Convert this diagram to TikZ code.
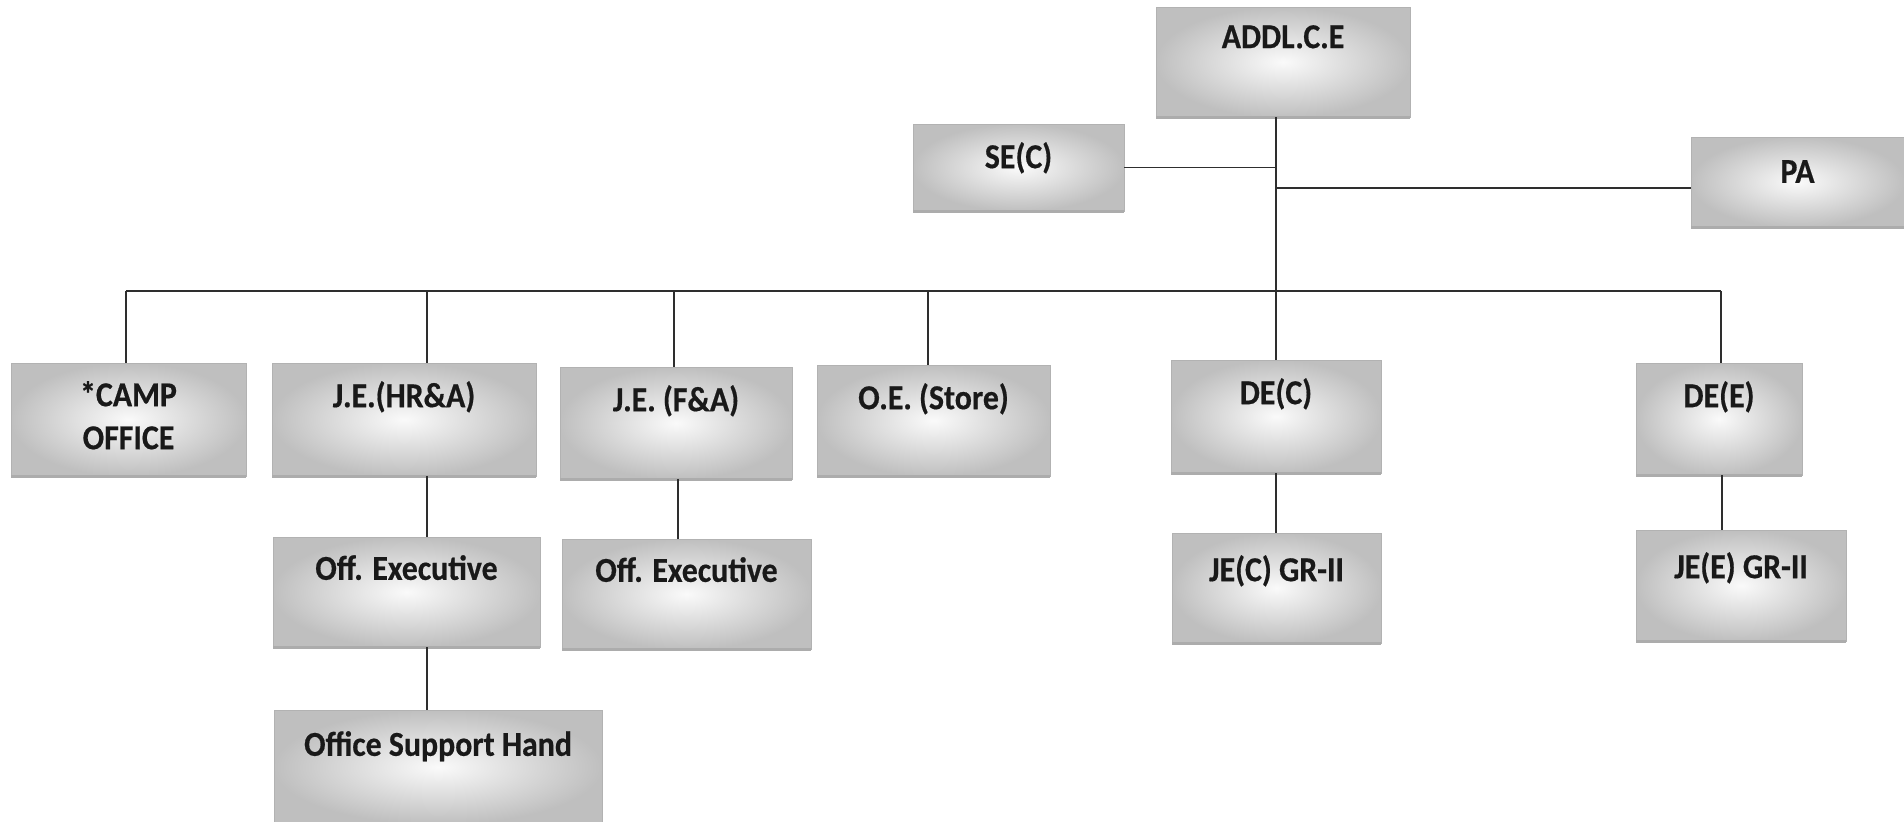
\documentclass[tikz,border=0pt]{standalone}
\usepackage{fontspec}
\setmainfont{Carlito}[BoldFeatures={FakeStretch=0.91,FakeBold=0.5}]
\begin{document}
\begin{tikzpicture}[x=1pt,y=-1pt,
 box/.style={rectangle, draw=gray!60, line width=1pt, inner sep=0pt, outer sep=0pt, shade, inner color=gray!4, outer color=gray!50},
 lbl/.style={anchor=north, inner sep=0pt, yshift=-18pt, font=\fontsize{35}{43}\selectfont\bfseries, text=black!90, align=center},
 conn/.style={draw=black!82, line width=1.7pt},
 bedge/.style={draw=gray!65, line width=3pt}]
\useasboundingbox[fill=white] (0,0) rectangle (1904,822);

% boxes
\node[box, minimum width=254pt, minimum height=110pt, label={[lbl]north:ADDL.C.E}] (adce) at (1283,62) {};
\node[box, minimum width=211pt, minimum height=87pt, label={[lbl]north:SE(C)}] (sec) at (1018.5,167.5) {};
\node[box, minimum width=213pt, minimum height=90pt, label={[lbl,yshift=-5pt]north:PA}] (pa) at (1797.5,182) {};

\node[box, minimum width=235pt, minimum height=113pt, label={[lbl]north:{*CAMP\\OFFICE}}] (camp) at (128.5,419.5) {};
\node[box, minimum width=264pt, minimum height=113pt, label={[lbl]north:J.E.(HR\&A)}] (hra) at (404,419.5) {};
\node[box, minimum width=232pt, minimum height=112pt, label={[lbl]north:J.E. (F\&A)}] (fa) at (676,423) {};
\node[box, minimum width=233pt, minimum height=111pt, label={[lbl]north:O.E. (Store)}] (oe) at (933.5,420.5) {};
\node[box, minimum width=210pt, minimum height=113pt, label={[lbl]north:DE(C)}] (dec) at (1276,416.5) {};
\node[box, minimum width=166pt, minimum height=112pt, label={[lbl]north:DE(E)}] (dee) at (1719,419) {};

\node[box, minimum width=267pt, minimum height=110pt, label={[lbl]north:Off. Executive}] (ofa) at (406.5,592) {};
\node[box, minimum width=249pt, minimum height=110pt, label={[lbl]north:Off. Executive}] (ofb) at (686.5,594) {};
\node[box, minimum width=209pt, minimum height=110pt, label={[lbl,yshift=-4pt]north:JE(C) GR-II}] (jec) at (1276.5,588) {};
\node[box, minimum width=210pt, minimum height=111pt, label={[lbl,yshift=-4pt]north:JE(E) GR-II}] (jee) at (1741,585.5) {};
\node[box, minimum width=328pt, minimum height=114pt, label={[lbl,yshift=-3pt]north:Office Support Hand}] (osh) at (438,767) {};

% bottom edges
\foreach \n in {adce,sec,pa,camp,hra,fa,oe,dec,dee,ofa,ofb,jec,jee}
  \draw[bedge] (\n.south west) -- (\n.south east);

% connectors
\coordinate (pj) at (1276,188);
\coordinate (bl) at (126,291);
\coordinate (br) at (1721,291);
\coordinate (dh) at (427,291);
\coordinate (df) at (674,291);
\coordinate (do) at (928,291);
\coordinate (cf) at (678,0);
\coordinate (ce) at (1722,0);

\draw[conn] (adce.south -| dec.north) -- (dec.north);
\draw[conn] (sec.east) -- (sec.east -| dec.north);
\draw[conn] (pj) -- (pj -| pa.west);
\draw[conn] (bl) -- (br);
\draw[conn] (bl) -- (bl |- camp.north);
\draw[conn] (dh) -- (dh |- hra.north);
\draw[conn] (df) -- (df |- fa.north);
\draw[conn] (do) -- (do |- oe.north);
\draw[conn] (br) -- (br |- dee.north);

\draw[conn] (hra.south -| dh) -- (ofa.north -| dh);
\draw[conn] (ofa.south -| dh) -- (osh.north -| dh);
\draw[conn] (fa.south -| cf) -- (ofb.north -| cf);
\draw[conn] (dec.south) -- (jec.north -| dec.south);
\draw[conn] (dee.south -| ce) -- (jee.north -| ce);
\end{tikzpicture}
\end{document}
